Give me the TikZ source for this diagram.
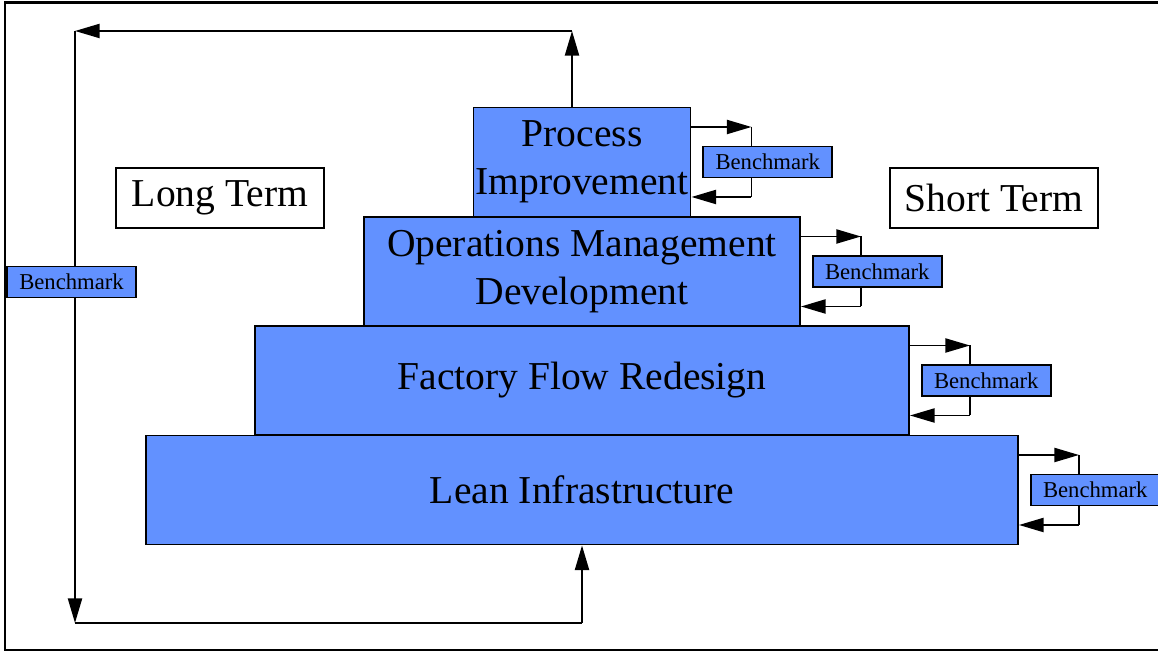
\documentclass[tikz,border=0pt]{standalone}
\usepackage{fontspec}
\setmainfont{Liberation Serif}
\usetikzlibrary{arrows.meta,positioning,calc}

\definecolor{tierblue}{RGB}{98,145,255}

\tikzset{
    tier/.style = {draw, line width=1.1pt, fill=tierblue, inner sep=0pt,
                   minimum height=2.18cm, align=center,
                   font=\fontsize{22.5}{27}\selectfont},
    termbox/.style = {draw, line width=1.1pt, fill=white, inner sep=0pt,
                      minimum width=4.16cm, minimum height=1.2cm,
                      font=\fontsize{22.5}{27}\selectfont},
    bmbox/.style = {draw, line width=0.9pt, fill=tierblue, inner sep=0pt,
                    minimum width=2.58cm, minimum height=0.62cm,
                    font=\fontsize{12.9}{15}\selectfont},
    arr/.style = {line width=1.1pt, -{Triangle[length=14pt,width=8pt]}},
    plain/.style = {line width=1.1pt}
}

\begin{document}
\begin{tikzpicture}
        \useasboundingbox (0,0) rectangle (23.16,13.06);

        % frame
        \draw [line width=1.7pt] (23.3,13.0) -- (0.1,13.0) -- (0.1,0.06) -- (23.3,0.06);

        % the four tiers
        \node (lean) at (11.64,3.26) [tier, minimum width=17.44cm] {Lean Infrastructure};
        \node (flow) at (11.64,5.45) [tier, minimum width=13.08cm] {Factory Flow Redesign};
        \node (opsdev) at (11.64,7.63) [tier, minimum width=8.72cm] {Operations Management\\Development};
        \node (procimp) at (11.64,9.82) [tier, minimum width=4.34cm] {Process\\Improvement};

        \node (longterm) at (4.40,9.10) [termbox] {Long Term};
        \node (shortterm) at (19.88,9.10) [termbox] {Short Term};

        % benchmark loops on the right
        \foreach \t in {procimp, opsdev, flow, lean} {
            \coordinate (\t-a) at ($(\t.east)+(1.2,0.7)$);
            \coordinate (\t-b) at ($(\t.east)+(1.2,-0.7)$);
            \draw [arr] (\t.east |- \t-a) -- (\t-a);
            \draw [plain] (\t-a) -- (\t-b);
            \draw [arr] (\t-b) -- (\t.east |- \t-b);
        }

        \node (bm1) [bmbox, right=0.22cm of procimp] {Benchmark};
        \node (bm2) [bmbox, right=0.22cm of opsdev] {Benchmark};
        \node (bm3) [bmbox, right=0.22cm of flow] {Benchmark};
        \node (bm4) [bmbox, right=0.22cm of lean] {Benchmark};

        % long loop on the left
        \coordinate (topup) at (11.44,12.44);
        \coordinate (topleft) at (1.5,12.44);
        \coordinate (botleft) at (1.5,0.6);
        \coordinate (botright) at (11.64,0.6);

        \draw [arr] (procimp.north -| topup) -- (topup);
        \draw [arr] (topup) -- (topleft);
        \draw [arr] (topleft) -- (botleft);
        \draw [plain] (botleft) -- (botright);
        \draw [arr] (botright) -- (lean.south);

        \node (bmleft) at (1.43,7.42) [bmbox] {Benchmark};
    \end{tikzpicture}
\end{document}
